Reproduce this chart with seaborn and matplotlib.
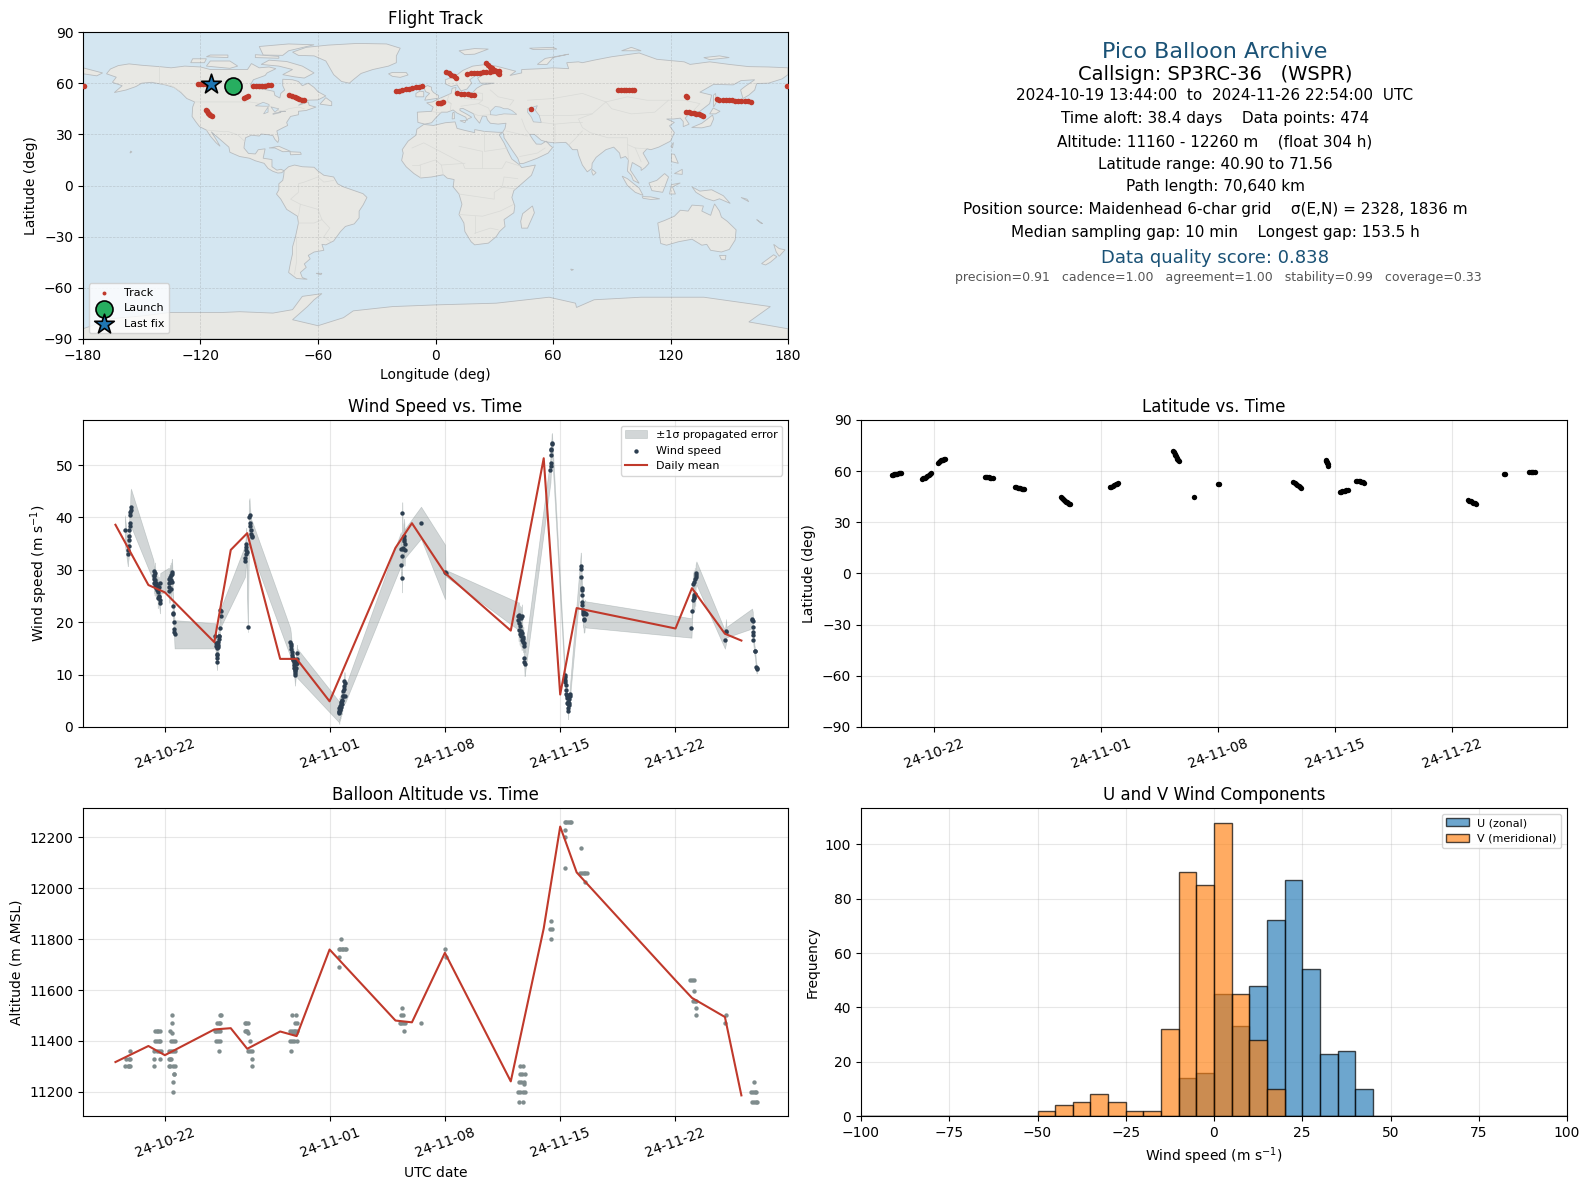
#!/usr/bin/env python3
"""Pico balloon flight summary: track map, wind, latitude, altitude and U/V histogram."""

import numpy as np
import pandas as pd
import matplotlib
matplotlib.use("Agg")
import matplotlib.pyplot as plt
import matplotlib.dates as mdates
import seaborn as sns

# All times are days since 2024-10-22 00:00 UTC
BASE_DATE = pd.Timestamp("2024-10-22")
DATE_TICKS = ["2024-10-22", "2024-11-01", "2024-11-08", "2024-11-15", "2024-11-22"]

# Wind speed samples, one line per cluster
wind_days = [
    -2.43, -2.25, -2.24, -2.20, -2.19, -2.18, -2.15, -2.13, -2.11, -2.10, -2.09, -2.08, -2.06,
    -0.69, -0.67, -0.66, -0.65, -0.64, -0.62, -0.60, -0.58, -0.56, -0.54, -0.52, -0.50, -0.47, -0.45, -0.43, -0.42, -0.40, -0.38, -0.36, -0.34, -0.32, -0.30, -0.28,
    0.24, 0.25, 0.27, 0.28, 0.30, 0.33, 0.36, 0.38, 0.40, 0.42, 0.44, 0.46, 0.48, 0.50, 0.52, 0.55, 0.57, 0.58, 0.59,
    3.06, 3.10, 3.12, 3.14, 3.15, 3.16, 3.17, 3.18, 3.20, 3.22, 3.24, 3.26, 3.28, 3.30, 3.33, 3.36, 3.38, 3.42,
    4.87, 4.88, 4.90, 4.92, 4.93, 4.94, 4.96, 5.04, 5.10, 5.14, 5.16, 5.18, 5.20, 5.22, 5.27, 5.28,
    7.61, 7.63, 7.65, 7.67, 7.69, 7.72, 7.74, 7.78, 7.80, 7.82, 7.84, 7.86, 7.88, 7.89, 7.90, 7.92, 7.94, 7.96, 7.98, 8.00, 8.02, 8.03,
    10.57, 10.58, 10.59, 10.60, 10.62, 10.64, 10.66, 10.68, 10.70, 10.72, 10.74, 10.76, 10.78, 10.80, 10.82, 10.84, 10.86, 10.88, 10.90, 10.92, 10.93,
    14.33, 14.35, 14.37, 14.40, 14.41, 14.44, 14.48, 14.50, 14.52, 14.54, 14.55, 14.56,
    15.55,
    17.01, 17.04,
    21.44, 21.46, 21.48, 21.50, 21.52, 21.54, 21.56, 21.58, 21.60, 21.62, 21.64, 21.66, 21.68, 21.70, 21.72, 21.74, 21.76, 21.78, 21.80, 21.82, 21.83, 21.84,
    23.41, 23.42, 23.43, 23.45, 23.46, 23.47, 23.48, 23.50,
    24.28, 24.29, 24.31, 24.32, 24.34, 24.36, 24.38, 24.39, 24.40, 24.42, 24.44, 24.46, 24.47, 24.48, 24.50, 24.52, 24.54, 24.55, 24.57, 24.58,
    25.25, 25.26, 25.27, 25.31, 25.32, 25.33, 25.34, 25.35, 25.37, 25.38, 25.40, 25.43, 25.47, 25.50, 25.54,
    31.97, 32.01, 32.06, 32.09, 32.10, 32.11, 32.13, 32.15, 32.17, 32.20, 32.22, 32.24, 32.27,
    34.00, 34.07, 34.09,
    35.65, 35.67, 35.69, 35.70, 35.71, 35.72, 35.73, 35.80, 35.81, 35.90, 35.92, 35.93,
]
wind_speed = [
    37.6, 33.0, 33.8, 34.6, 35.7, 36.4, 37.6, 38.3, 39.0, 40.5, 41.0, 41.5, 41.9,
    29.8, 29.0, 28.3, 27.5, 28.8, 27.0, 29.4, 28.0, 26.8, 27.4, 26.5, 27.0, 26.2, 27.2, 24.6, 26.6, 25.8, 26.8, 25.0, 24.8, 24.2, 23.6, 27.4,
    28.2, 27.5, 26.7, 25.9, 28.6, 27.6, 29.0, 26.4, 28.0, 29.5, 29.2, 27.6, 23.1, 21.7, 21.5, 20.1, 18.7, 18.2, 17.7,
    17.4, 16.0, 15.4, 14.0, 13.2, 12.4, 13.8, 15.0, 15.6, 16.2, 15.3, 16.8, 17.3, 17.3, 18.9, 22.4, 22.2, 21.1,
    31.7, 32.2, 33.0, 33.8, 34.4, 34.9, 33.4, 19.1, 40.0, 40.4, 39.0, 38.4, 37.6, 36.8, 36.2, 36.4,
    16.2, 15.8, 15.4, 14.9, 14.4, 13.8, 13.1, 12.8, 13.2, 12.4, 11.8, 11.3, 10.8, 10.3, 9.9, 10.6, 11.2, 12.0, 12.6, 13.0, 14.2, 12.2,
    2.9, 3.0, 2.6, 3.6, 3.2, 4.0, 3.5, 4.4, 3.9, 4.8, 4.3, 5.2, 4.9, 6.0, 6.0, 6.8, 7.3, 7.9, 8.7, 8.4, 6.0,
    34.0, 31.0, 32.6, 28.5, 40.9, 34.2, 34.0, 35.5, 36.5, 35.8, 33.8, 35.0,
    39.0,
    29.6, 29.4,
    21.2, 20.4, 18.6, 21.4, 19.8, 17.7, 21.0, 19.2, 17.4, 20.8, 18.4, 16.6, 21.2, 17.9, 16.8, 16.2, 17.2, 16.0, 15.4, 13.2, 12.4, 12.0,
    49.1, 49.8, 50.3, 52.0, 52.8, 53.0, 54.0, 54.3,
    10.0, 9.6, 8.9, 8.6, 8.1, 7.0, 6.3, 5.9, 6.2, 5.6, 4.6, 4.3, 3.6, 3.0, 4.8, 4.2, 5.3, 4.6, 6.0, 6.3,
    30.7, 30.2, 28.6, 26.6, 26.1, 25.2, 23.8, 23.2, 22.4, 21.5, 22.0, 20.5, 20.6, 21.8, 21.5,
    18.9, 22.2, 27.3, 24.3, 24.9, 27.7, 25.2, 24.6, 28.2, 25.3, 28.7, 29.1, 29.4,
    16.7, 18.3, 18.1,
    20.7, 20.5, 20.2, 19.1, 18.2, 17.5, 16.7, 14.5, 14.5, 11.5, 11.2, 11.0,
]
wind_sigma = [
    2.8, 2.3, 2.4, 2.5, 2.6, 2.6, 2.8, 2.9, 3.0, 3.2, 3.4, 3.5, 3.6,
    2.0, 2.0, 2.0, 2.0, 2.0, 1.9, 2.0, 2.0, 1.9, 1.9, 1.9, 1.9, 1.9, 1.9, 1.9, 1.9, 1.9, 1.9, 1.9, 1.9, 1.9, 1.9, 2.0,
    2.2, 2.2, 2.2, 2.2, 2.3, 2.3, 2.4, 2.2, 2.3, 2.6, 2.4, 2.3, 2.0, 2.0, 2.0, 2.2, 2.4, 2.6, 2.7,
    2.4, 2.0, 1.9, 1.7, 1.6, 1.5, 1.7, 1.9, 2.0, 2.0, 1.9, 2.1, 2.2, 2.2, 2.4, 1.8, 1.8, 1.8,
    3.0, 3.0, 3.0, 3.0, 3.1, 3.1, 3.0, 1.0, 3.2, 3.3, 3.2, 3.2, 3.1, 3.1, 3.0, 3.0,
    2.7, 2.6, 2.5, 2.3, 2.0, 2.0, 1.9, 1.9, 1.9, 1.9, 1.9, 1.9, 2.0, 2.0, 2.0, 1.9, 1.9, 1.9, 1.9, 1.9, 1.5, 2.8,
    2.0, 2.0, 2.0, 2.0, 2.0, 2.0, 1.9, 1.9, 1.9, 1.9, 1.9, 1.8, 1.8, 1.8, 1.8, 1.8, 1.8, 1.8, 1.8, 1.8, 1.5,
    3.2, 3.0, 3.0, 2.8, 2.0, 3.2, 3.2, 3.2, 3.2, 3.0, 3.0, 2.8,
    3.05,
    5.2, 0.6,
    2.6, 2.4, 2.2, 2.4, 2.2, 2.0, 2.2, 2.0, 2.0, 2.2, 2.0, 1.9, 2.2, 2.0, 1.9, 1.9, 1.9, 1.9, 1.9, 2.0, 2.2, 2.3,
    2.4, 2.3, 2.2, 2.0, 2.0, 2.0, 1.9, 1.8,
    1.3, 1.3, 1.2, 1.2, 1.2, 1.2, 1.2, 1.2, 1.2, 1.2, 1.2, 1.3, 1.4, 1.5, 1.3, 1.3, 1.2, 1.2, 1.2, 1.2,
    2.6, 2.6, 2.6, 2.5, 2.5, 2.5, 2.5, 2.5, 2.5, 2.5, 2.5, 2.5, 2.5, 2.5, 2.5,
    1.85, 2.0, 2.2, 2.2, 2.2, 2.2, 2.2, 2.2, 2.2, 2.2, 2.2, 2.2, 2.2,
    1.75, 2.3, 1.0,
    1.9, 1.8, 1.8, 1.6, 1.4, 1.2, 1.1, 0.9, 0.9, 0.8, 0.8, 0.8,
]

# Daily means
mean_days = [-3, -1, 0, 3, 4, 5, 7, 8, 10, 14, 15, 17, 21, 23, 24, 25, 31, 32, 34, 35]
mean_wind = [38.6, 27.1, 25.7, 16.2, 33.8, 37.0, 13.0, 13.0, 4.9, 34.2, 38.9, 29.4, 18.4, 51.3, 6.2, 22.7, 18.8, 26.5, 17.8, 16.5]
mean_altitude = [11317, 11380, 11344, 11445, 11450, 11369, 11437, 11419, 11759, 11480, 11473, 11746, 11241, 11842, 12242, 12062, 11638, 11569, 11494, 11186]

# Altitude samples (20 m telemetry steps show up as rows of dots)
altitude_days = [
    -2.43, -2.25, -2.15, -2.09, -2.35, -2.19, -2.09, -2.13,
    -0.57, -0.49, -0.40, -0.32, -0.61, -0.49, -0.36, -0.28, -0.63, -0.49, -0.36, -0.22, -0.65, -0.30, -0.67,
    0.43, 0.43, 0.32, 0.45, 0.38, 0.49, 0.59, 0.28, 0.38, 0.49, 0.59, 0.24, 0.32, 0.38, 0.24, 0.32, 0.49, 0.59, 0.53, 0.57, 0.49, 0.49,
    3.32, 3.42, 3.16, 3.26, 3.36, 3.02, 3.12, 3.22, 3.36, 3.12, 3.22, 3.36, 3.28,
    4.88, 4.94, 5.04, 4.84, 4.92, 4.98, 5.04, 5.16, 5.04, 5.14, 5.26, 5.26, 5.28,
    7.69, 7.94, 7.88, 8.00, 7.61, 7.71, 7.82, 7.92, 8.02, 7.75, 7.96, 7.61, 7.71, 7.84, 8.02, 7.65,
    10.69, 10.57, 10.65, 10.73, 10.81, 10.91, 11.01, 10.57, 10.57,
    14.38, 14.31, 14.46, 14.25, 14.36, 14.46, 14.56, 14.50,
    15.55,
    17.03, 17.08,
    21.54, 21.74, 21.54, 21.66, 21.84, 21.50, 21.64, 21.80, 21.82, 21.44, 21.58, 21.74, 21.84, 21.50, 21.74,
    23.45, 23.49, 23.39, 23.45,
    24.28, 24.38, 24.48, 24.58, 24.68, 24.30, 24.30, 24.30,
    25.27, 25.23, 25.33, 25.43, 25.53, 25.63, 25.49,
    31.91, 32.03, 32.11, 32.13, 32.07, 32.17, 32.23, 32.25, 32.25,
    34.09, 33.99,
    35.75, 35.61, 35.71, 35.81, 35.91, 35.67, 35.77, 35.87, 35.95,
]
altitude_m = [
    11300, 11300, 11300, 11300, 11330, 11330, 11330, 11360,
    11440, 11440, 11440, 11440, 11400, 11400, 11400, 11400, 11360, 11360, 11360, 11360, 11330, 11330, 11300,
    11500, 11470, 11440, 11430, 11400, 11400, 11400, 11360, 11360, 11360, 11360, 11330, 11330, 11330, 11300, 11300, 11300, 11300, 11270, 11270, 11240, 11200,
    11500, 11500, 11470, 11470, 11470, 11440, 11440, 11440, 11440, 11400, 11400, 11400, 11360,
    11470, 11470, 11470, 11440, 11440, 11440, 11430, 11400, 11360, 11360, 11360, 11330, 11300,
    11500, 11500, 11470, 11470, 11440, 11440, 11440, 11440, 11440, 11430, 11430, 11400, 11400, 11400, 11400, 11360,
    11800, 11760, 11760, 11760, 11760, 11760, 11760, 11730, 11690,
    11530, 11500, 11500, 11470, 11470, 11470, 11470, 11440,
    11470,
    11760, 11730,
    11300, 11300, 11270, 11270, 11270, 11240, 11240, 11240, 11230, 11200, 11200, 11200, 11200, 11160, 11160,
    11870, 11838, 11838, 11800,
    12260, 12260, 12260, 12260, 12260, 12228, 12200, 12078,
    12157, 12058, 12058, 12058, 12058, 12058, 12026,
    11640, 11640, 11640, 11598, 11558, 11558, 11558, 11530, 11500,
    11500, 11470,
    11240, 11200, 11200, 11200, 11200, 11160, 11160, 11160, 11160,
]

# Latitude samples
latitude_days = [
    -2.48, -2.42, -2.36, -2.30, -2.24, -2.18, -2.10, -2.02, -1.94,
    -0.70, -0.62, -0.54, -0.46, -0.38, -0.30, -0.22, -0.16,
    0.24, 0.30, 0.36, 0.42, 0.48, 0.54, 0.60, 0.66,
    3.05, 3.12, 3.20, 3.28, 3.36, 3.44, 3.52,
    4.86, 4.94, 5.02, 5.10, 5.18, 5.26, 5.34, 5.42,
    7.60, 7.66, 7.72, 7.78, 7.84, 7.90, 7.96, 8.02, 8.10, 8.16,
    10.55, 10.63, 10.71, 10.79, 10.87, 10.95, 11.03,
    14.33, 14.37, 14.40, 14.44, 14.48, 14.52, 14.56, 14.60, 14.64,
    15.55,
    17.02, 17.05,
    21.50, 21.58, 21.66, 21.74, 21.82, 21.90, 21.98,
    23.43, 23.46, 23.49, 23.52, 23.55, 23.58,
    24.28, 24.36, 24.44, 24.52, 24.60, 24.68, 24.76,
    25.26, 25.34, 25.42, 25.50, 25.58, 25.66, 25.74,
    31.95, 32.03, 32.11, 32.19, 32.27, 32.35, 32.43,
    34.12, 34.16,
    35.62, 35.70, 35.78, 35.86, 35.95,
]
latitude_deg = [
    57.9, 58.0, 58.1, 58.1, 58.3, 58.4, 58.7, 58.8, 58.8,
    55.2, 55.8, 56.2, 56.8, 57.4, 57.9, 58.3, 58.7,
    64.9, 65.4, 65.9, 66.3, 66.5, 66.7, 66.9, 67.0,
    56.6, 56.6, 56.5, 56.4, 56.2, 56.0, 55.8,
    50.6, 50.5, 50.3, 50.2, 50.0, 49.8, 49.5, 49.3,
    45.0, 44.3, 43.6, 43.1, 42.6, 42.2, 41.8, 41.3, 41.0, 40.9,
    50.8, 51.0, 51.3, 51.7, 52.2, 52.6, 52.9,
    71.6, 71.0, 70.2, 69.4, 68.6, 67.8, 67.0, 66.4, 65.8,
    44.8,
    52.4, 52.2,
    53.4, 52.9, 52.3, 51.7, 51.1, 50.6, 50.1,
    66.6, 66.0, 65.3, 64.6, 64.0, 63.3,
    47.8, 48.0, 48.2, 48.4, 48.6, 48.8, 49.0,
    54.5, 54.4, 54.2, 54.0, 53.8, 53.6, 53.3,
    43.2, 42.8, 42.3, 41.9, 41.5, 41.2, 40.9,
    58.2, 58.6,
    59.3, 59.3, 59.4, 59.4, 59.4,
]

# Map track
track_lon = [
    -93, -91.5, -90, -88.5, -87, -85.5, -84,
    -20.4, -18.7, -17, -15.3, -13.6, -11.9, -10.2, -8.5, -6.8,
    16.3, 18, 19.6, 21.2, 22.8, 24.4, 26, 27.6, 29.2, 30.8, 32.5,
    93, 94.5, 96, 97.4, 98.8, 100.2, 101.5,
    143.5, 145, 146.6, 148.2, 149.8, 151.4, 153, 154.6, 156.2, 157.8, 159.4, 161,
    -117, -116.5, -116, -115.5, -115, -114,
    -98, -97, -96,
    26, 27, 28, 29, 30, 31, 32, 32.5,
    49,
    128, 128.4,
    -75, -73.5, -72, -70.8, -69.6, -68.3, -67,
    5.6, 6.8, 8, 9.2, 10.4,
    1.5, 2.3, 3.0, 3.6,
    11.2, 13, 14.7, 16.4, 18.1, 19.8,
    128, 129.3, 130.6, 131.9, 133.2, 134.5, 135.8, 136.8,
    179.7, -179.7,
    -121.5, -120, -118.5, -117, -116,
]
track_lat = [
    58.2, 58.3, 58.4, 58.5, 58.6, 58.8, 59.0,
    55.3, 55.7, 56, 56.3, 56.7, 57.1, 57.5, 57.9, 58.4,
    65.5, 65.7, 65.8, 66, 66.1, 66.3, 66.5, 66.7, 66.9, 67.1, 67.0,
    56, 56, 56, 56, 56, 56, 56,
    50.5, 50.4, 50.3, 50.1, 50, 49.9, 49.8, 49.7, 49.6, 49.5, 49.4, 49.2,
    44.5, 43.6, 42.8, 42, 41.3, 40.8,
    51.4, 52, 52.5,
    71.6, 70.6, 69.7, 68.8, 68, 67.1, 66.2, 65.6,
    45,
    52.4, 52.1,
    52.8, 52.2, 51.7, 51.3, 50.8, 50.4, 49.9,
    66.5, 65.7, 64.9, 64, 63.3,
    48.2, 48.4, 48.6, 48.7,
    54.1, 53.9, 53.7, 53.5, 53.2, 53,
    43.3, 43, 42.7, 42.3, 42, 41.7, 41.3, 41,
    58.6, 58.6,
    59.3, 59.4, 59.4, 59.5, 59.5,
]
launch_lon, launch_lat = -103.6, 58.6
last_lon, last_lat = -114.5, 59.6

# U / V histogram counts per 5 m/s bin (bin left edges)
hist_edges = list(range(-100, 105, 5))
u_bin_left = [-10, -5, 0, 5, 10, 15, 20, 25, 30, 35, 40]
u_counts = [14, 16, 45, 33, 48, 72, 87, 54, 23, 24, 10]
v_bin_left = [-50, -45, -40, -35, -30, -25, -20, -15, -10, -5, 0, 5, 10, 15]
v_counts = [2, 4, 5, 8, 5, 2, 2, 32, 90, 85, 108, 45, 28, 10]

# Summary text: line, size, colour, centre x and y in pixels
summary_lines = [
    ("Pico Balloon Archive", 16, "#1a5276", 1215, 52),
    ("Callsign: SP3RC-36   (WSPR)", 14, "black", 1215, 75),
    ("2024-10-19 13:44:00  to  2024-11-26 22:54:00  UTC", 11, "black", 1215, 96),
    ("Time aloft: 38.4 days    Data points: 474", 11, "black", 1215, 118),
    ("Altitude: 11160 - 12260 m    (float 304 h)", 11, "black", 1215, 142),
    ("Latitude range: 40.90 to 71.56", 11, "black", 1215, 164),
    ("Path length: 70,640 km", 11, "black", 1215, 187),
    ("Position source: Maidenhead 6-char grid    \u03c3(E,N) = 2328, 1836 m", 11, "black", 1215, 209),
    ("Median sampling gap: 10 min    Longest gap: 153.5 h", 11, "black", 1215, 233),
    ("Data quality score: 0.838", 13, "#1a5276", 1215, 258),
    ("precision=0.91   cadence=1.00   agreement=1.00   stability=0.99   coverage=0.33", 9, "#555555", 1218, 278),
]

# Rough coastlines, (lon, lat)
north_america = [(-168, 65.5), (-166, 68.3), (-162, 70.3), (-156.5, 71.3), (-150, 70.5), (-141, 69.7), (-135, 69), (-128, 70), (-120, 69.5), (-115, 68), (-108, 68), (-100, 68), (-96, 68), (-94, 71.5), (-90, 69), (-85, 69.5), (-81.5, 68.5), (-86, 66), (-87, 64.5), (-93, 62), (-94.5, 59), (-92.5, 57), (-88, 56.5), (-82.5, 55.2), (-82, 52.8), (-79.5, 51.3), (-79, 54), (-77, 56), (-78, 58.5), (-78, 62.3), (-73, 62), (-70, 61), (-68, 58.5), (-65, 60), (-62, 57.5), (-60, 55), (-56, 52.5), (-60, 50.2), (-66, 50), (-70, 47), (-65, 49), (-64.5, 47), (-61, 46), (-66, 44), (-70, 43.5), (-70, 41.5), (-74, 40.5), (-76, 37), (-75.5, 35.2), (-78, 33.8), (-81, 32), (-80, 27), (-80.5, 25.2), (-82, 27), (-83, 29.2), (-85, 29.7), (-89, 30.2), (-90, 29), (-94, 29.5), (-97, 28), (-97.5, 25), (-97.8, 22), (-95.5, 18.8), (-92, 18.5), (-90.5, 21), (-87, 21.5), (-88, 16), (-83.5, 15.2), (-83.5, 11), (-81, 9), (-79, 9.5), (-77.3, 8.7), (-78.5, 7.5), (-80.5, 7.3), (-83, 8.3), (-85.5, 10), (-87.5, 13), (-92, 14.5), (-95, 16), (-100, 17), (-105, 19.5), (-105.5, 22.5), (-109, 26), (-112.5, 29.5), (-114.5, 31.5), (-112, 27), (-110, 23), (-112, 25), (-115, 29), (-117, 32.5), (-120.5, 34.5), (-122.5, 37.5), (-124.3, 40.5), (-124, 46), (-123, 49), (-127, 51), (-130, 54.5), (-133.5, 57.5), (-138, 59), (-145, 60.5), (-150, 60), (-153, 58), (-158, 56), (-164, 54.5), (-160, 58.5), (-165, 60.5), (-163, 63.5)]
south_america = [(-77.3, 8.7), (-75, 11), (-72, 12), (-68, 11), (-62, 10.7), (-60, 8.5), (-57, 6), (-52, 5), (-50, 1), (-47, -0.8), (-42, -2.8), (-37, -4.8), (-35, -7), (-37, -11.5), (-39, -15), (-39, -19), (-41.5, -22.5), (-46, -24), (-48.5, -27), (-52, -32.5), (-56, -34.8), (-58, -34.5), (-57, -38), (-62, -39), (-65, -41), (-64, -43), (-67, -46), (-66, -48), (-69, -51), (-68, -54), (-65.5, -55), (-71, -54.5), (-75, -51), (-74, -45), (-73, -40), (-73, -36), (-71.5, -30), (-70, -22), (-70.5, -18), (-76, -14), (-79, -8), (-81.2, -5), (-80, -2.5), (-80, 1), (-78, 3), (-77.5, 6)]
greenland = [(-73, 78.2), (-66, 81), (-55, 82.3), (-40, 83.3), (-25, 83), (-18, 80.5), (-20, 76), (-20, 72), (-24, 70), (-32, 68), (-38, 65.7), (-42, 62), (-44, 60), (-48, 61), (-52, 65), (-54, 69), (-56, 73), (-62, 76), (-70, 76.3)]
africa = [(-6, 35.8), (-1, 35.2), (5, 36.8), (10, 37.3), (11, 33.5), (15, 32.3), (20, 31), (20, 32.8), (25, 31.7), (32, 31.2), (34.3, 31.2), (32.5, 29.8), (35, 25), (37, 20), (39, 15.5), (43, 12), (44, 10.5), (51, 12), (49, 6), (44, 1), (40, -3), (39, -7), (40.5, -12), (40, -16), (35, -20), (35.5, -24), (32.7, -27), (31, -30), (27, -33.8), (20, -34.8), (18.2, -33), (15, -27), (14.5, -22), (12, -17), (13.5, -11), (12, -5), (9, -0.8), (9.5, 3.5), (6, 4.3), (4, 6.3), (-2, 5), (-7.5, 4.4), (-11, 7), (-15, 11), (-17.3, 14.7), (-16.5, 19), (-17, 21), (-14, 26), (-10, 29.5), (-9.5, 33)]
eurasia = [(-9, 37), (-9.3, 43), (-2, 43.5), (-1.2, 46), (-4.5, 48.5), (-1.5, 49), (2, 51), (4, 52), (8, 54), (8.5, 57), (10.5, 57.5), (10, 54.5), (14, 54), (19, 54.5), (21, 57), (24, 59), (30, 60), (23, 60), (21.5, 63), (25, 65.5), (22, 65.8), (17.5, 62), (18.5, 60), (16, 56.5), (13, 55.5), (11, 59), (8, 58), (5.2, 59.5), (5, 62), (10, 64), (14, 67.5), (19, 70), (26, 71), (31, 70), (41, 67), (38, 64.5), (44, 66), (44, 68), (54, 68.5), (60, 69), (68, 68.5), (67, 72), (73, 72.5), (75, 72), (81, 73.5), (90, 75.5), (104, 77.7), (113, 74), (127, 72.5), (130, 71), (140, 72.5), (150, 71), (160, 69.7), (170, 69.5), (180, 69), (180, 65), (177, 62.5), (170, 60), (164, 59.8), (163, 56), (160, 53), (157, 51), (155.8, 56), (158, 58), (163, 62), (156, 61.5), (152, 59), (142, 59.3), (135, 54.7), (141, 53), (140, 48), (135, 43.5), (130, 42.5), (127.5, 39.5), (129.5, 36), (126.5, 34.5), (126.5, 37.5), (125, 39.5), (121.5, 39), (118, 39), (122, 37), (119.5, 35), (122, 31), (120, 26), (114, 22.5), (110, 21), (108, 21.5), (106, 19), (109, 13), (107, 10.5), (105, 8.8), (105, 10.5), (100.5, 13.5), (99.5, 9), (103, 3), (104, 1.3), (101, 3), (100, 6), (98, 8.5), (98.5, 15), (97, 17), (94.5, 16), (94, 19), (91, 22.5), (87, 21), (82, 16.5), (80, 13), (79.8, 10), (77.5, 8), (75, 12), (73, 18), (72.5, 21), (70, 21), (68, 23.7), (66.5, 25.3), (61, 25), (57, 25.5), (54, 26.5), (50.5, 30), (48, 30), (50, 26.5), (51.5, 24.3), (54, 24.2), (56.5, 26), (58.5, 23.5), (59.8, 22.3), (57.5, 19), (52, 16), (45, 13), (43, 12.8), (42, 16), (39, 21), (35, 28), (34.9, 29.5), (34.3, 31.2), (35.5, 33.5), (36, 36.5), (32, 36), (28, 36.5), (26.5, 38.5), (26, 40.5), (24, 40.8), (23, 38), (22.5, 36.5), (20, 40), (19.5, 42), (14, 45.2), (12.5, 45), (12.5, 44), (16, 41.8), (18.5, 40), (16.5, 39), (16, 38), (15.5, 40), (11, 42.5), (9, 44.3), (6, 43), (3, 43), (0, 39.5), (-2, 36.8), (-5.5, 36)]
chukotka = [(-180, 69), (-175, 67.5), (-170, 66), (-173, 64.3), (-180, 65.5)]
australia = [(113.5, -22), (114, -26), (115, -34), (118, -35), (124, -33), (131, -31.5), (136, -35), (138.5, -34.5), (140.5, -38), (146, -39), (150, -37.5), (153, -32), (153.5, -26), (149, -21), (146, -18.5), (145, -15), (142.5, -10.8), (141.5, -14), (140.5, -17.5), (136, -15), (136.8, -12), (131, -11.5), (129, -15), (125, -14.5), (122, -18), (117, -20.5)]
antarctica = [(-180, -90), (-180, -84), (-165, -78), (-150, -76.5), (-136, -74.5), (-110, -74.5), (-100, -74), (-83, -74.8), (-73, -72.8), (-68, -65), (-58, -63.4), (-62, -67), (-65.4, -71), (-73, -78.7), (-60, -82.2), (-47, -77.5), (-42, -73.5), (-22, -71), (0, -70), (31, -69), (58, -65.5), (71.5, -69), (72, -71.5), (81, -67), (105, -65.5), (137, -65.5), (171, -71), (160, -80), (180, -84), (180, -90)]
islands = [
    [(-5.5, 50), (1.5, 51.2), (1.5, 52.8), (-1, 54.5), (-2, 56), (-2, 57.6), (-4, 58.6), (-6, 57.5), (-5, 55), (-3, 54), (-4.8, 52)],
    [(-10, 52), (-6, 52), (-6, 55), (-8, 55.3), (-10, 54)],
    [(-24, 65.5), (-22, 64), (-18, 63.4), (-14, 64.8), (-15, 66.3), (-22, 66.3)],
    [(12, 79), (20, 80.3), (27, 80), (20, 77), (15, 76.7)],
    [(52, 71), (56, 74.5), (68, 77), (60, 75), (57, 71)],
    [(48, 80.5), (60, 81), (62, 80), (50, 79.7)],
    [(95, 79), (105, 79), (100, 81)],
    [(137, 75), (145, 76), (150, 75), (140, 73.8)],
    [(-85, 22), (-80, 23), (-74, 20), (-78, 19.8), (-82, 22)],
    [(-74.3, 19.8), (-69, 19.5), (-68.5, 18.3), (-74, 18)],
    [(49.5, -12), (50.5, -16), (47, -25), (44, -25), (43.5, -21), (44.5, -16.5)],
    [(80, 9.5), (82, 7.5), (80.5, 6), (79.8, 8)],
    [(95.3, 5.5), (98, 4), (104, -1.5), (106, -5.8), (102, -4), (98, 0)],
    [(105.5, -6.5), (110, -6.7), (114.5, -7.8), (110, -8.2), (106, -7.5)],
    [(109, 1.5), (113, 3), (117, 7), (119, 5), (117.7, 1), (116, -4), (110.5, -3)],
    [(119.5, -5), (120.5, 0.5), (125, 1.5), (121, -0.8), (122.5, -5)],
    [(131, -0.8), (135, -3.3), (141, -2.5), (147, -6), (150.5, -10.5), (145, -7.8), (142, -9), (138, -7.5), (133, -4)],
    [(120.5, 18.5), (122, 18.3), (124, 13), (120.5, 14)],
    [(122, 7), (126, 9.5), (126, 6.5)],
    [(120.2, 23), (121.5, 25.2), (121, 22)],
    [(130.8, 34), (136, 36.5), (140, 40), (141.5, 41.3), (142, 39), (140.5, 35), (136, 33.8)],
    [(140, 42), (141.8, 45.4), (145.3, 43.5), (143, 42)],
    [(142, 46), (143.5, 49), (143, 54), (142, 53), (142, 49)],
    [(145, -41), (148.3, -41), (148, -43.5), (146, -43.5)],
    [(172.7, -34.5), (175.5, -37), (178.5, -37.7), (175.5, -41.5), (174, -39)],
    [(172.7, -40.6), (174.3, -41.8), (171, -45), (168.5, -46.6), (166.5, -45.8), (171, -42)],
    [(-62, 66), (-67, 63), (-72, 63.7), (-78, 65), (-73, 68), (-80, 70), (-89, 71), (-85, 73.5), (-76, 72.7), (-68, 70)],
    [(-117, 70), (-105, 68.7), (-101, 70), (-105, 73), (-115, 73)],
    [(-125, 72), (-118, 72), (-117, 74.3), (-124, 74.3)],
    [(-88, 76.5), (-78, 76.3), (-75, 79), (-62, 82.5), (-75, 83), (-90, 81.5)],
    [(-92, 75), (-80, 74.6), (-80, 75.7), (-92, 76.7)],
    [(-117, 75.5), (-106, 75), (-106, 76.5), (-115, 76.5)],
    [(-59, 47.7), (-53, 46.8), (-53, 49), (-56, 51.5), (-58, 49)],
    [(-156, 19), (-155, 19.7), (-155.7, 20.2)],
    [(-61, -51.5), (-58, -51.5), (-58.5, -52.3)],
    [(69, -49), (70.5, -49.3), (69.5, -49.8)],
    [(12.5, 38), (15.5, 38.2), (15, 36.8)],
    [(8.5, 39), (9.7, 39.2), (9.5, 43), (8.7, 42.5)],
    [(164, -20), (167, -22.3), (166, -22)],
    [(156, -7), (160, -9.5), (159, -8)],
]
lakes = [
    [(28, 41.5), (31, 41.2), (35, 42), (41.5, 41.7), (39, 44), (37, 45), (35, 45), (33, 46), (30.5, 46.3), (28, 43.5)],
    [(47, 45), (52, 46.8), (51, 44), (53, 41), (54, 37), (50, 37.3), (49, 40), (47, 43)],
    [(-92, 46.7), (-88, 48.8), (-85, 47.5), (-85, 46.5), (-88, 46.5)],
    [(-87.8, 42), (-85.5, 46), (-85.5, 43)],
    [(-84, 46), (-80, 45), (-82, 43)],
    [(-83, 41.7), (-79, 42.8), (-79.5, 43.6), (-76.5, 43.5), (-79, 43.2), (-83, 42.2)],
]
borders = [
    [(-123, 49), (-95, 49), (-89, 48), (-83, 46), (-79, 43), (-75, 45), (-70, 46), (-67, 45)],
    [(-141, 69.7), (-141, 60), (-135, 58.5), (-130, 55)],
    [(-117, 32.5), (-108, 31.5), (-106, 31.7), (-101, 29.7), (-97.5, 26)],
    [(-70, -18), (-69, -11), (-74, -8), (-70, -4), (-70, 1), (-67, 2), (-60, 5), (-57, 2), (-52, 3)],
    [(-69, -11), (-60, -14), (-58, -20), (-54, -25), (-57, -30), (-53.5, -33)],
    [(-70, -22), (-62, -22), (-58, -20)],
    [(-71, -30), (-71, -45), (-72, -52)],
    [(12, 23), (24, 20), (24, 10), (15, 10), (14, 13), (4, 19), (-6, 25), (-12, 22)],
    [(25, 31.5), (25, 20), (37, 22)],
    [(24, 10), (34, 10), (36, 14), (43, 11.5)],
    [(12, -5), (30, -8), (30, -4), (34, -1), (41, -2)],
    [(34, -1), (35, 5), (42, 4)],
    [(12, -17), (24, -18), (33, -15), (40, -11)],
    [(20, -28), (20, -18)],
    [(20, -28), (28, -25), (32, -26)],
    [(4, 6), (3, 12), (15, 13)],
    [(-8, 5), (-8, 12), (-12, 12)],
    [(-8, 12), (0, 15), (3, 12)],
    [(-1.5, 43.3), (3, 42.5)],
    [(2.5, 51), (8, 48), (7.5, 44)],
    [(7, 53.5), (6, 50), (8, 48)],
    [(14, 54), (15, 51), (24, 50), (24, 54), (20, 54.5)],
    [(24, 50), (22, 48), (27, 45.5), (28, 43)],
    [(13, 46.5), (22, 48)],
    [(28, 41.5), (22, 41), (19.5, 42)],
    [(28, 56), (32, 52), (40, 50), (38, 47)],
    [(47, 50), (60, 51), (75, 54), (87, 49), (80, 42), (68, 41), (56, 41), (53, 41)],
    [(87, 49), (98, 52), (108, 50), (119, 50), (112, 43), (100, 42), (90, 45), (87, 49)],
    [(119, 50), (127, 50), (135, 48), (131, 43), (130, 42.5)],
    [(80, 42), (73, 39), (75, 34), (79, 31), (88, 28), (98, 28), (98, 24), (102, 22), (108, 21.5)],
    [(68, 23.7), (71, 27), (75, 32)],
    [(44, 39), (46, 33), (48, 30)],
    [(61, 25), (61, 36), (54, 37)],
    [(61, 36), (71, 37), (75, 37)],
    [(36, 32), (47, 29)],
    [(43, 17), (52, 19), (56, 22)],
    [(98, 24), (98.5, 15)],
    [(102, 22), (105, 14)],
]

TRACK_RED = "#c0392b"
WIND_DOT = "#2c3e50"
SLATE = "#7f8c8d"
OCEAN = "#d4e6f1"
LAND = "#e8e8e4"
COAST = "#b8bcbf"
BORDER = "#d9dad7"


def to_dates(days):
    return BASE_DATE + pd.to_timedelta(np.asarray(days, dtype=float), unit="D")


def add_axes_px(fig, left, top, right, bottom):
    """Axes box given in pixels from the top left of the 1589x1189 figure"""
    return fig.add_axes([left / 1589, 1 - bottom / 1189, (right - left) / 1589, (bottom - top) / 1189])


def style_time_axis(ax, start, end):
    ax.set_xlim(to_dates([start])[0], to_dates([end])[0])
    ax.set_xticks(pd.to_datetime(DATE_TICKS))
    ax.xaxis.set_major_formatter(mdates.DateFormatter("%y-%m-%d"))
    ax.tick_params(axis="x", rotation=20)
    ax.grid(True, alpha=0.3)
    ax.set_axisbelow(True)
    ax.set_xlabel("")


def draw_map(ax):
    ax.set_facecolor(OCEAN)
    land = [north_america, south_america, greenland, africa, eurasia, chukotka, australia, antarctica] + islands
    for poly in land:
        lon, lat = zip(*poly)
        ax.fill(lon, lat, facecolor=LAND, edgecolor=COAST, linewidth=0.6, zorder=1)
    for line in borders:
        lon, lat = zip(*line)
        ax.plot(lon, lat, color=BORDER, linewidth=0.5, zorder=1.5)
    for poly in lakes:
        lon, lat = zip(*poly)
        ax.fill(lon, lat, facecolor=OCEAN, edgecolor=COAST, linewidth=0.5, zorder=2)

    sns.scatterplot(x=track_lon, y=track_lat, s=16, color=TRACK_RED, linewidth=0, label="Track", ax=ax, zorder=4)
    sns.scatterplot(x=[launch_lon], y=[launch_lat], s=150, color="#27ae60", edgecolor="black",
                    linewidth=1.2, label="Launch", ax=ax, zorder=5)
    sns.scatterplot(x=[last_lon], y=[last_lat], s=220, marker="*", color="#1f77b4", edgecolor="black",
                    linewidth=1.2, label="Last fix", ax=ax, zorder=6)

    ax.set_xlim(-180, 180)
    ax.set_ylim(-90, 90)
    ax.set_xticks(range(-180, 181, 60))
    ax.set_yticks(range(-90, 91, 30))
    ax.grid(True, alpha=0.3, linestyle="--", linewidth=0.5, color="#808080", zorder=3)
    ax.set_title("Flight Track", fontsize=12)
    ax.set_xlabel("Longitude (deg)")
    ax.set_ylabel("Latitude (deg)")
    legend = ax.legend(loc="lower left", fontsize=8)
    legend.legend_handles[0].set_sizes([8])


def draw_summary(fig):
    for text, size, color, x_px, y_px in summary_lines:
        fig.text(x_px / 1589, 1 - y_px / 1189, text, fontsize=size, color=color, ha="center", va="center")


def draw_wind(ax):
    dates = to_dates(wind_days)
    speed = np.array(wind_speed)
    sigma = np.array(wind_sigma)
    ax.fill_between(dates, speed - sigma, speed + sigma, color=SLATE, alpha=0.35, linewidth=0.5,
                    label="\u00b11\u03c3 propagated error")
    sns.scatterplot(x=dates, y=speed, s=10, color=WIND_DOT, linewidth=0, label="Wind speed", ax=ax)
    sns.lineplot(x=to_dates(mean_days), y=mean_wind, color=TRACK_RED, linewidth=1.5, estimator=None,
                 label="Daily mean", ax=ax)
    style_time_axis(ax, -4.97, 37.83)
    ax.set_ylim(0, 58.6)
    ax.set_title("Wind Speed vs. Time", fontsize=12)
    ax.set_ylabel("Wind speed (m s$^{-1}$)")
    ax.legend(loc="upper right", fontsize=8)


def draw_latitude(ax):
    sns.scatterplot(x=to_dates(latitude_days), y=latitude_deg, s=15, color="black", linewidth=0, ax=ax)
    style_time_axis(ax, -4.35, 37.87)
    ax.set_ylim(-90, 90)
    ax.set_yticks(range(-90, 91, 30))
    ax.set_title("Latitude vs. Time", fontsize=12)
    ax.set_ylabel("Latitude (deg)")


def draw_altitude(ax):
    sns.scatterplot(x=to_dates(altitude_days), y=altitude_m, s=10, color=SLATE, linewidth=0, ax=ax)
    sns.lineplot(x=to_dates(mean_days), y=mean_altitude, color=TRACK_RED, linewidth=1.5, estimator=None, ax=ax)
    style_time_axis(ax, -4.97, 37.83)
    ax.set_ylim(11105, 12315)
    ax.set_title("Balloon Altitude vs. Time", fontsize=12)
    ax.set_xlabel("UTC date")
    ax.set_ylabel("Altitude (m AMSL)")


def draw_components(ax):
    u_centers = np.array(u_bin_left) + 2.5
    v_centers = np.array(v_bin_left) + 2.5
    edge = (0, 0, 0, 0.7)
    sns.histplot(x=u_centers, weights=u_counts, bins=hist_edges, color="#1f77b4", alpha=0.65,
                 edgecolor=edge, linewidth=1, label="U (zonal)", ax=ax)
    sns.histplot(x=v_centers, weights=v_counts, bins=hist_edges, color="#ff7f0e", alpha=0.65,
                 edgecolor=edge, linewidth=1, label="V (meridional)", ax=ax)
    ax.set_xlim(-100, 100)
    ax.set_ylim(0, 113.4)
    ax.grid(True, alpha=0.3)
    ax.set_axisbelow(True)
    ax.set_title("U and V Wind Components", fontsize=12)
    ax.set_xlabel("Wind speed (m s$^{-1}$)")
    ax.set_ylabel("Frequency")
    ax.legend(loc="upper right", fontsize=8)


def main():
    fig = plt.figure(figsize=(15.89, 11.89), dpi=100)

    draw_map(add_axes_px(fig, 83, 32, 788, 339))
    draw_summary(fig)
    draw_wind(add_axes_px(fig, 83, 420, 788, 727))
    draw_latitude(add_axes_px(fig, 861, 420, 1567, 727))
    draw_altitude(add_axes_px(fig, 83, 808, 788, 1116))
    draw_components(add_axes_px(fig, 861, 808, 1567, 1116))

    fig.savefig("out.png", dpi=100)
    plt.close(fig)


if __name__ == "__main__":
    main()
